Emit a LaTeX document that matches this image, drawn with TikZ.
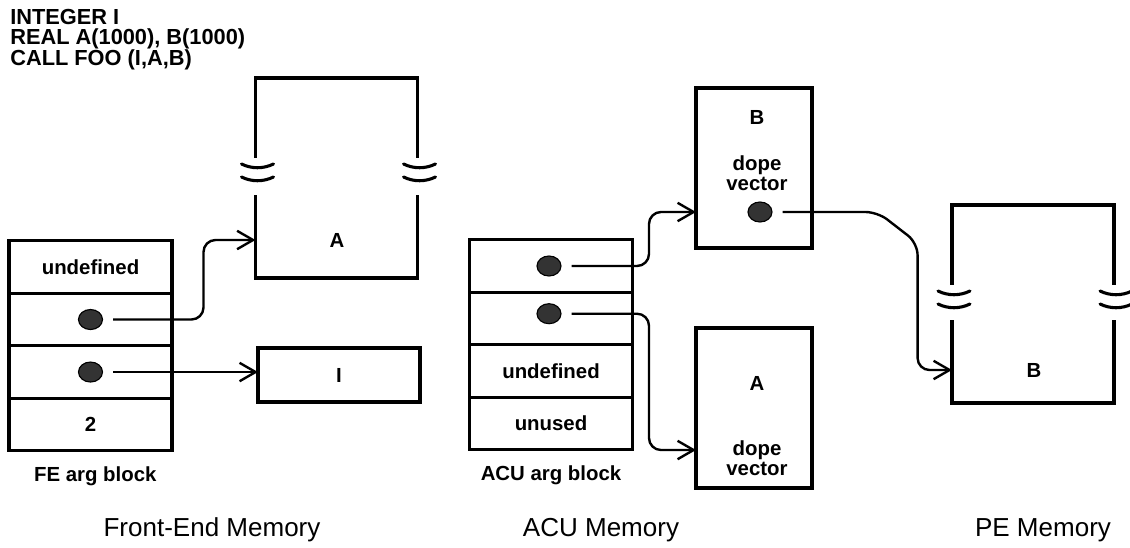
\documentclass[tikz,border=0pt]{standalone}
\usepackage{fontspec}
\setmainfont{Liberation Sans}
\usepackage{tikz}
\usetikzlibrary{arrows.meta,positioning,shapes.geometric,calc}

\begin{document}
\begin{tikzpicture}[
  x=0.025cm, y=-0.025cm,
  lbl/.style={font=\fontsize{14.5}{14.5}\selectfont\bfseries, align=center},
  title/.style={font=\fontsize{18.5}{18.5}\selectfont},
  cell/.style={rectangle, draw=black, line width=2.2pt, outer sep=0pt, minimum width=4.075cm, minimum height=1.3125cm, font=\fontsize{14.5}{14.5}\selectfont\bfseries},
  box/.style={rectangle, draw=black, line width=2.2pt, outer sep=0pt, font=\fontsize{14.5}{14.5}\selectfont\bfseries},
  span/.style={rectangle, outer sep=0pt, minimum width=4.05cm, minimum height=5cm},
  wall/.style={line width=2.2pt},
  dot/.style={ellipse, draw=black, fill=black!80, line width=0.8pt, minimum width=0.6cm, minimum height=0.5cm, inner sep=0pt},
  ptr/.style={-{Straight Barb[length=4mm, width=4.6mm]}, line width=1.7pt, shorten <=0.25cm, rounded corners=0.3cm},
  brk/.pic={\draw[wall, line cap=round] (-16,-2) .. controls (-6,3) and (6,3) .. (16,-2);}
]
\useasboundingbox (0,0) rectangle (1130,547);

\node[lbl, anchor=north west, align=left, inner sep=0pt, font=\fontsize{15.5}{14.5}\selectfont\bfseries] (code) at (10,9) {INTEGER I\\REAL A(1000), B(1000)\\CALL FOO (I,A,B)};

\node[cell] (fe1) at (90.5,267) {undefined};
\node[cell, below=0pt of fe1] (fe2) {};
\node[cell, below=0pt of fe2] (fe3) {};
\node[cell, below=0pt of fe3] (fe4) {2};
\node[dot] (fedot1) at (fe2) {};
\node[dot] (fedot2) at (fe3) {};
\node[lbl, below=0.28cm of fe4, xshift=0.12cm] (feblk) {FE arg block};

\node[span] (feA) at (336.5,178) {};
\node[lbl] (feAlbl) at (337,240) {A};
\node[box, minimum width=4.05cm, minimum height=1.35cm] (feI) at (339,375) {I};

\node[cell] (acu1) at (551,266) {};
\node[cell, below=0pt of acu1] (acu2) {};
\node[cell, below=0pt of acu2] (acu3) {undefined};
\node[cell, below=0pt of acu3] (acu4) {unused};
\node[dot] (acudot1) at ([xshift=-0.05cm]acu1.center) {};
\node[dot] (acudot2) at ([xshift=-0.05cm, yshift=0.12cm]acu2.center) {};
\node[lbl, below=0.28cm of acu4] (acublk) {ACU arg block};

\node[box, minimum width=2.9cm, minimum height=4cm] (acuB) at (754,168) {};
\node[lbl] (acuBname) at (757,117) {B};
\node[lbl] (acuBdope) at (757,173) {dope\\vector};
\node[dot] (acuBdot) at (760,212) {};

\node[box, minimum width=2.9cm, minimum height=4cm] (acuA) at (754,408) {};
\node[lbl] (acuAname) at (757,383) {A};
\node[lbl] (acuAdope) at (757,458) {dope\\vector};
\coordinate (acuAin) at ($(acuA.south west)+(0,-38)$);

\node[span, minimum height=4.95cm] (peB) at (1033,304) {};
\node[lbl] (peBlbl) at (1034,370) {B};

\node[title] (fetitle) at (212,530) {Front-End Memory};
\node[title] (acutitle) at (601,530) {ACU Memory};
\node[title] (petitle) at (1043,530) {PE Memory};

\foreach \b in {feA,peB} {
  \draw[wall] ($(\b.north west)+(0,80)$) -- (\b.north west) -- (\b.north east) -- ($(\b.north east)+(0,80)$);
  \draw[wall] ($(\b.south west)+(0,-83)$) -- (\b.south west) -- (\b.south east) -- ($(\b.south east)+(0,-83)$);
  \foreach \s in {north west,north east}
    \foreach \d in {88,101}
      \pic at ($(\b.\s)+(2,\d)$) {brk};
}

\draw[ptr] (fedot1.east) -| ($(feA.west |- feAlbl)+(-52,0)$) -- (feA.west |- feAlbl);
\draw[ptr] (fedot2.east) -- (feI.west |- fedot2);
\draw[ptr] (acudot1.east) -| ($(acuB.west |- acuBdot)+(-47,0)$) -- (acuB.west |- acuBdot);
\draw[ptr] (acudot2.east) -| ($(acuAin)+(-47,0)$) -- (acuAin);
\draw[ptr] (acuBdot.east) -- ++(105,0) -- ++(40,31) |- (peB.west |- peBlbl);
\end{tikzpicture}
\end{document}
